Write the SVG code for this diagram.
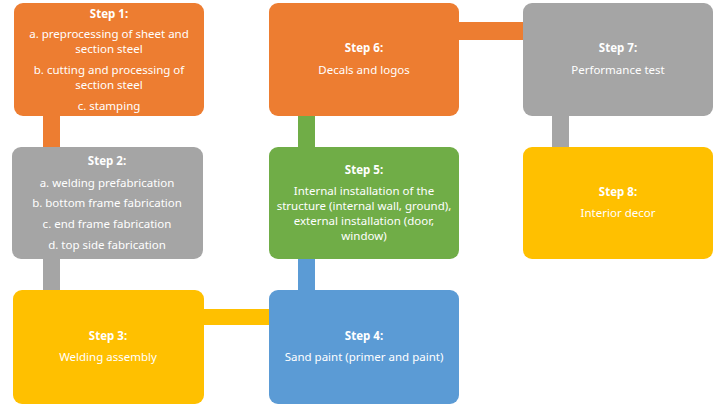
<svg xmlns="http://www.w3.org/2000/svg" width="728" height="405" viewBox="0 0 728 405">
<style>
text{font-family:"Noto Sans","DejaVu Sans",sans-serif;font-size:11.5px;fill:#fff;text-anchor:middle}
.t{font-weight:bold}
.o{fill:#ED7D31}.g{fill:#A5A5A5}.y{fill:#FFC000}.b{fill:#5B9BD5}.gr{fill:#70AD47}
</style>
<rect width="728" height="405" fill="#fff"/>
<g id="connectors">
<rect class="o" x="43" y="114" width="17" height="35"/>
<rect class="g" x="43" y="257" width="17" height="35"/>
<rect class="y" x="202" y="309" width="69" height="16"/>
<rect class="b" x="298" y="257" width="17" height="35"/>
<rect class="gr" x="298" y="114" width="17" height="35"/>
<rect class="o" x="457" y="22" width="68" height="18"/>
<rect class="g" x="552" y="114" width="17" height="35"/>
</g>
<g id="step1"><rect class="o" x="14" y="3" width="190" height="113" rx="9"/>
<text class="t" x="109" y="18">Step 1:</text>
<text x="109" y="38">a. preprocessing of sheet and</text>
<text x="109" y="53">section steel</text>
<text x="109" y="74">b. cutting and processing of</text>
<text x="109" y="89">section steel</text>
<text x="109" y="110">c. stamping</text></g>
<g id="step2"><rect class="g" x="12" y="147" width="191" height="112" rx="9"/>
<text class="t" x="107" y="165">Step 2:</text>
<text x="107" y="187">a. welding prefabrication</text>
<text x="107" y="207">b. bottom frame fabrication</text>
<text x="107" y="228">c. end frame fabrication</text>
<text x="107" y="249">d. top side fabrication</text></g>
<g id="step3"><rect class="y" x="13" y="290" width="191" height="114" rx="9"/>
<text class="t" x="108" y="340">Step 3:</text>
<text x="108" y="361">Welding assembly</text></g>
<g id="step4"><rect class="b" x="269" y="290" width="190" height="114" rx="9"/>
<text class="t" x="364" y="340">Step 4:</text>
<text x="364" y="361">Sand paint (primer and paint)</text></g>
<g id="step5"><rect class="gr" x="269" y="147" width="190" height="112" rx="9"/>
<text class="t" x="364" y="174">Step 5:</text>
<text x="364" y="195">Internal installation of the</text>
<text x="364" y="210">structure (internal wall, ground),</text>
<text x="364" y="225">external installation (door,</text>
<text x="364" y="240">window)</text></g>
<g id="step6"><rect class="o" x="269" y="3" width="190" height="113" rx="9"/>
<text class="t" x="364" y="52">Step 6:</text>
<text x="364" y="74">Decals and logos</text></g>
<g id="step7"><rect class="g" x="523" y="3" width="190" height="113" rx="9"/>
<text class="t" x="618" y="52">Step 7:</text>
<text x="618" y="74">Performance test</text></g>
<g id="step8"><rect class="y" x="523" y="147" width="190" height="112" rx="9"/>
<text class="t" x="618" y="196">Step 8:</text>
<text x="618" y="217">Interior decor</text></g>
</svg>
